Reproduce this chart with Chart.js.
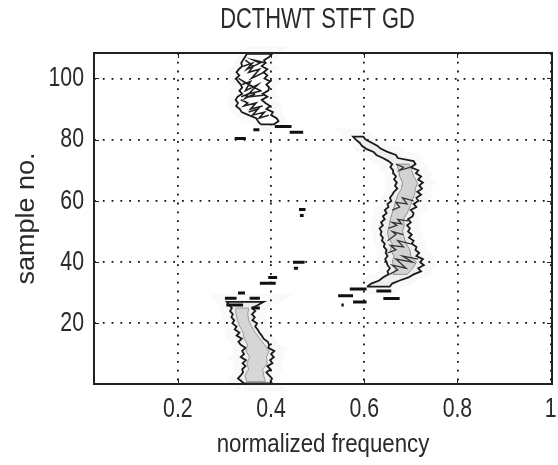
<!DOCTYPE html>
<html><head><meta charset="utf-8">
<style>html,body{margin:0;padding:0;background:#fff}#w{width:558px;height:465px}</style>
<script src="https://cdn.jsdelivr.net/npm/chart.js@4"></script></head>
<body><div id="w"><canvas id="c" width="558" height="465"></canvas></div>
<script>
const xTicks=[0.2,0.4,0.6,0.8,1];
const yTicks=[20,40,60,80,100];
const chartTitle='DCTHWT STFT GD';
const xTitle='normalized frequency';
const yTitle='sample no.';

// Lower ridge
const lowS=[0.4,1,2,3,4,5,6,7,8,9,10,11,12,13,14,15,16,17,18,19,20,21,22,23,24,25,26,27];
const lowL=[.342,.337,.329,.335,.340,.338,.345,.339,.346,.335,.342,.338,.345,.335,.330,.337,.326,.332,.322,.326,.317,.321,.315,.318,.312,.316,.310,.305];
const lowR=[.402,.399,.402,.396,.390,.399,.392,.403,.398,.406,.400,.407,.394,.396,.393,.384,.380,.375,.371,.366,.370,.360,.365,.359,.366,.360,.372,.384];
const lowMidS=[1,3,5,7,9,11,13,15,17,19,21,23,25];
const lowMidL=[.348,.344,.352,.348,.354,.346,.350,.342,.340,.333,.328,.325,.324];
const lowMidR=[.388,.384,.382,.392,.390,.396,.386,.376,.366,.358,.352,.350,.352];

// Upper-right ridge
const hiS=[32,33,34,35,36,37,38,39,40,41,42,43,44,45,46,47,48,49,50,51,52,53,54,55,56,57,58,59,60,61,62,63,64,65,66,67,68,69,70,71,72,73,74,75,76,77,78,79,80,81];
const hiL=[.606,.615,.632,.640,.652,.650,.655,.650,.648,.645,.650,.646,.648,.642,.644,.638,.640,.635,.637,.633,.640,.636,.644,.640,.648,.644,.652,.650,.658,.655,.660,.664,.671,.666,.670,.664,.668,.663,.662,.656,.660,.652,.640,.626,.620,.604,.595,.590,.582,.576];
const hiR=[.655,.660,.676,.695,.706,.722,.716,.728,.720,.726,.712,.718,.710,.712,.702,.706,.696,.702,.694,.698,.692,.700,.694,.704,.706,.700,.712,.706,.716,.712,.722,.714,.724,.718,.726,.716,.722,.711,.716,.700,.710,.706,.672,.668,.650,.636,.628,.616,.603,.598];
const hiMidS=[36,38,40,42,44,46,48,50,52,54,56,58,60,62,64,66,68,70,72];
const hiMidL=[.662,.668,.660,.664,.656,.660,.652,.650,.654,.656,.660,.664,.668,.672,.680,.682,.676,.674,.670];
const hiMidR=[.692,.704,.712,.700,.698,.690,.686,.682,.686,.684,.692,.698,.702,.708,.710,.714,.706,.702,.696];
const hiLaceF=[[.654,.672,.660,.690,.668,.704,.682,.716],[.650,.668,.656,.684,.672,.700],[.660,.676,.668,.692,.682,.706],[.668,.684,.676,.700],[.652,.670,.660,.680,.672,.694],[.650,.668,.660,.684]];
const hiLaceS=[[36,37.5,39,38,41,40,42,41],[43,44,45.5,45,47,46],[57,58,59.5,59,61,60],[72,71,70,71],[51,52,53,52.5,54,53.5],[47,49,50,49]];

// Upper-left ridge
const topS=[85,86,87,88,89,90,91,92,93,94,95,96,97,98,99,100,101,102,103,104,105,106,107,108];
const topL=[.378,.372,.368,.352,.337,.333,.325,.329,.324,.328,.338,.332,.338,.335,.329,.325,.332,.326,.331,.338,.336,.340,.344,.348];
const topR=[.406,.416,.412,.400,.404,.390,.398,.388,.380,.392,.382,.394,.396,.390,.398,.386,.392,.384,.392,.380,.388,.385,.396,.402];
const laceF=[[.345,.362,.352,.375,.358,.385],[.338,.356,.345,.372,.352,.380],[.335,.350,.342,.368,.356,.382],[.330,.352,.340,.366,.350,.378],[.352,.372,.360,.386,.374,.395],[.340,.360,.348,.376,.362,.390],[.336,.352,.344,.366,.354,.384]];
const laceS=[[106,104,102,103,100,102],[98,99,96,98,95,96],[93,92,91,92,90,91],[100,98,99,97,98,96],[89,90,88,89,87,88],[104,105,103,105,106,105],[94,95,93.5,95,94,94.5]];

// Short dark streaks
const streakL=[.569,.544,.626,.641,.576,.551,.447,.449,.376,.394,.322,.362,.408,.440,.460,.462,.301,.304,.354,.358,.329];
const streakR=[.605,.576,.658,.676,.605,.556,.472,.458,.410,.413,.346,.375,.444,.469,.474,.470,.326,.340,.376,.376,.344];
const streakS=[31.2,29,30.6,28.1,27,26,40,38,33.1,35,80.4,83.2,84.3,82.4,57.2,55.2,28.2,26,28.2,25,29.9];

function ring(S,L,R){
  const p=S.map((s,i)=>({x:L[i],y:s}));
  for(let i=S.length-1;i>=0;i--)p.push({x:R[i],y:S[i]});
  p.push({x:L[0],y:S[0]});
  return p;
}
function poly(data,fill,line,w){
  return {type:'scatter',data,showLine:true,pointRadius:0,tension:0,
    borderColor:line,borderWidth:w,backgroundColor:fill,fill:fill?'shape':false,clip:false};
}
function broken(F,S){
  const p=[];
  F.forEach((f,i)=>{f.forEach((v,j)=>p.push({x:v,y:S[i][j]}));p.push({x:NaN,y:NaN});});
  return p;
}
const streakPts=[];
streakS.forEach((s,i)=>{streakPts.push({x:streakL[i],y:s},{x:streakR[i],y:s},{x:NaN,y:NaN});});

const halo='rgba(0,0,0,0.025)';
const draw=[
  poly(ring(lowS,lowL,lowR),null,halo,16),
  poly(ring(hiS,hiL,hiR),null,halo,16),
  poly(ring(topS,topL,topR),null,halo,14),
  poly(ring(lowS,lowL,lowR),'#eeeeee','#1a1a1a',1.8),
  poly(ring(hiS,hiL,hiR),'#eeeeee','#1a1a1a',1.8),
  poly(ring(topS,topL,topR),'#ffffff','#1a1a1a',1.8),
  poly(ring(lowMidS,lowMidL,lowMidR),'#d6d6d6','#9a9a9a',1),
  poly(ring(hiMidS,hiMidL,hiMidR),'#d2d2d2','#909090',1),
  poly(broken(hiLaceF,hiLaceS),null,'#333333',1.3),
  poly(broken(laceF,laceS),null,'#222222',1.6),
  poly(streakPts,null,'#111111',3),
];
// Lower-index datasets paint on top, so feed the list back to front.
const datasets=draw.slice().reverse();

const frame={id:'frame',afterDatasetsDraw(ch){
  const {ctx,chartArea:a,scales:{x,y}}=ch;
  ctx.save();ctx.strokeStyle='#222';ctx.lineWidth=1;ctx.beginPath();
  xTicks.forEach(v=>{const p=Math.round(x.getPixelForValue(v))+.5;
    ctx.moveTo(p,a.bottom);ctx.lineTo(p,a.bottom-5);ctx.moveTo(p,a.top);ctx.lineTo(p,a.top+5);});
  yTicks.forEach(v=>{const p=Math.round(y.getPixelForValue(v))+.5;
    ctx.moveTo(a.left,p);ctx.lineTo(a.left+5,p);ctx.moveTo(a.right,p);ctx.lineTo(a.right-5,p);});
  ctx.stroke();
  ctx.lineWidth=2;ctx.strokeRect(a.left,a.top,a.right-a.left,a.bottom-a.top);
  ctx.restore();
}};
const topTitle={id:'topTitle',afterDraw(ch){
  const c=ch.ctx;c.save();c.font='29px '+F;c.fillStyle='#2a2a2a';
  c.textAlign='center';c.textBaseline='middle';c.fillText(chartTitle,317.5,20);c.restore();
}};
const F='"Liberation Sans",sans-serif';
// The reference type is tall and narrow: squeeze each string horizontally around its anchor.
const squeeze=new Map([[xTitle,.89],[yTitle,1.08],[chartTitle,.755]]);
const cv=document.getElementById('c');
const ctx2=cv.getContext('2d');
const rawFill=ctx2.fillText.bind(ctx2);
ctx2.fillText=function(t,x,y,m){
  const k=squeeze.get(t)??.76;
  ctx2.save();ctx2.translate(x,y);ctx2.scale(k,1);rawFill(t,0,0,m);ctx2.restore();
};
const dots={color:'#111',lineWidth:1.8,drawTicks:false,tickColor:'transparent'};
new Chart(cv,{
  type:'scatter',
  data:{datasets},
  plugins:[frame,topTitle],
  options:{
    responsive:false,animation:false,
    layout:{padding:{left:0,right:6,top:53,bottom:0}},
    plugins:{legend:{display:false},tooltip:{enabled:false},title:{display:false}},
    scales:{
      x:{type:'linear',min:0.02,max:1.003,
        afterBuildTicks:s=>{s.ticks=xTicks.map(value=>({value}));},
        afterFit:s=>{s.height=81;s.paddingRight=0;s.paddingLeft=0;},
        grid:{...dots},border:{display:false,dash:[1.8,7]},
        ticks:{color:'#2a2a2a',font:{family:F,size:28},padding:8,maxRotation:0,autoSkip:false,callback:v=>String(v)},
        title:{display:true,text:xTitle,color:'#2a2a2a',font:{family:F,size:25},padding:{top:0,bottom:5}}},
      y:{type:'linear',min:0.2,max:108.3,
        afterBuildTicks:s=>{s.ticks=yTicks.map(value=>({value}));},
        afterFit:s=>{s.width=94;s.paddingTop=0;s.paddingBottom=0;},
        grid:{...dots},border:{display:false,dash:[1.8,7]},
        ticks:{color:'#2a2a2a',font:{family:F,size:28},padding:10,autoSkip:false,callback:v=>String(v)},
        title:{display:true,text:yTitle,color:'#2a2a2a',font:{family:F,size:25},padding:{top:12,bottom:0}}}
    }
  }
});
</script></body></html>
